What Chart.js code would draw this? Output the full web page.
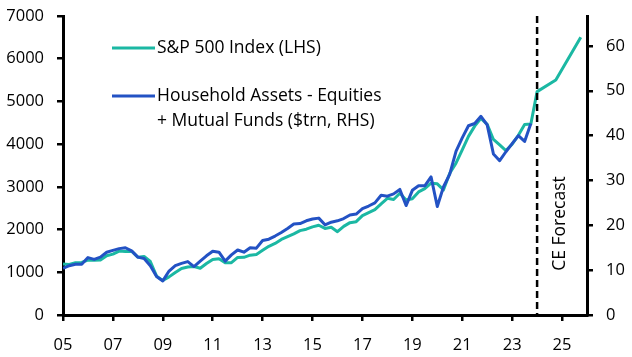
<!DOCTYPE html>
<html>
<head>
<meta charset="utf-8">
<script src="https://cdn.jsdelivr.net/npm/chart.js@4.4.1/dist/chart.umd.min.js"></script>
<style>
  html, body { margin: 0; padding: 0; background: #fff; }
  #wrap { width: 632px; height: 357px; position: relative; }
</style>
</head>
<body>
<div id="wrap"><canvas id="c" width="632" height="357"></canvas></div>
<script>
// Quarterly data, 2005 Q1 onward
const startYear = 2005;
const spxQuarterly = [
  1192, 1183, 1224, 1231,
  1283, 1282, 1289, 1389,
  1425, 1497, 1489, 1494,
  1351, 1371, 1252, 909,
  810, 892, 995, 1088,
  1123, 1135, 1096, 1204,
  1302, 1318, 1226, 1225,
  1348, 1350, 1400, 1418,
  1514, 1609, 1675, 1769,
  1834, 1900, 1976, 2009,
  2064, 2102, 2027, 2052,
  1951, 2075, 2162, 2185,
  2326, 2396, 2467, 2603,
  2733, 2703, 2849, 2692,
  2722, 2882, 2958, 3085,
  3070, 2930, 3320, 3553,
  3864, 4182, 4422, 4602,
  4463, 4109, 3980, 3851,
  3999, 4206, 4458, 4472,
  5230
];
const spxForecastQuarters = ["2024Q4", "2025Q4"];
const spxForecastValues = [5500, 6500];

const householdEquities = [
  10.4, 11.0, 11.3, 11.3,
  12.8, 12.4, 12.9, 14.0,
  14.4, 14.8, 15.0, 14.3,
  12.9, 12.6, 11.0, 8.6,
  7.6, 9.8, 11.0, 11.5,
  11.9, 10.8, 12.0, 13.2,
  14.2, 14.0, 12.0, 13.4,
  14.5, 14.0, 15.0, 14.9,
  16.6, 16.9, 17.6, 18.4,
  19.3, 20.3, 20.4, 21.0,
  21.4, 21.6, 20.1, 20.7,
  21.0, 21.5, 22.3, 22.5,
  23.7, 24.3, 25.0, 26.7,
  26.5, 27.0, 28.0, 24.4,
  27.8, 28.8, 28.8, 30.8,
  24.2, 28.6, 31.4, 36.5,
  39.5, 42.2, 42.7, 44.3,
  42.4, 35.9, 34.4, 36.4,
  38.2, 40.0, 38.7, 42.7
];

const xTickYears = [2005, 2007, 2009, 2011, 2013, 2015, 2017, 2019, 2021, 2023, 2025];
const leftTicks = [0, 1000, 2000, 3000, 4000, 5000, 6000, 7000];
const rightTicks = [0, 10, 20, 30, 40, 50, 60];
const forecastStart = 2024;

const legendLabels = ["S&P 500 Index (LHS)", ["Household Assets - Equities", "+ Mutual Funds ($trn, RHS)"]];
const forecastLabel = "CE Forecast";

const TEAL = "#1BB8A3";
const BLUE = "#2352C4";
const FONT = "'Open Sans', sans-serif";

function qToX(idx) { return startYear + idx / 4; }
function labelToX(s) { const y = parseInt(s.slice(0, 4)); const q = parseInt(s.slice(5)); return y + (q - 1) / 4; }

const spxData = spxQuarterly.map((v, i) => ({ x: qToX(i), y: v }))
  .concat(spxForecastQuarters.map((s, i) => ({ x: labelToX(s), y: spxForecastValues[i] })));
const hhData = householdEquities.map((v, i) => ({ x: qToX(i), y: v }));

function noPad(s) { s.paddingTop = 0; s.paddingBottom = 0; s.paddingLeft = 0; s.paddingRight = 0; }

const overlay = {
  id: 'overlay',
  afterDatasetsDraw(chart) {
    const ctx = chart.ctx;
    const xs = chart.scales.x;
    const ca = chart.chartArea;
    // forecast dashed line
    const fx = xs.getPixelForValue(forecastStart);
    ctx.save();
    ctx.strokeStyle = '#000';
    ctx.lineWidth = 2.5;
    ctx.setLineDash([7, 4]);
    ctx.beginPath();
    ctx.moveTo(fx, ca.top);
    ctx.lineTo(fx, ca.bottom);
    ctx.stroke();
    ctx.setLineDash([]);
    // forecast label
    ctx.translate(fx + 23, (ca.top + ca.bottom) / 2 + 58);
    ctx.rotate(-Math.PI / 2);
    ctx.fillStyle = '#000';
    ctx.font = "17.5px " + FONT;
    ctx.textAlign = 'center';
    ctx.textBaseline = 'middle';
    ctx.fillText(forecastLabel, 0, 0);
    ctx.restore();

    // legend
    ctx.save();
    ctx.lineWidth = 3;
    ctx.strokeStyle = TEAL;
    ctx.beginPath(); ctx.moveTo(112, 48); ctx.lineTo(155, 48); ctx.stroke();
    ctx.strokeStyle = BLUE;
    ctx.beginPath(); ctx.moveTo(112, 96); ctx.lineTo(155, 96); ctx.stroke();
    ctx.fillStyle = '#000';
    ctx.font = "17.5px " + FONT;
    ctx.textAlign = 'left';
    ctx.textBaseline = 'middle';
    ctx.fillText(legendLabels[0], 157, 48);
    ctx.fillText(legendLabels[1][0], 157, 96);
    ctx.fillText(legendLabels[1][1], 157, 121);
    ctx.restore();
  }
};

new Chart(document.getElementById('c'), {
  type: 'line',
  data: {
    datasets: [
      { label: 'S&P 500 Index (LHS)', data: spxData, yAxisID: 'y', borderColor: TEAL, borderWidth: 3,
        pointRadius: 0, tension: 0, spanGaps: true, order: 1, borderJoinStyle: 'round' },
      { label: 'Household Assets', data: hhData, yAxisID: 'y2', borderColor: BLUE, borderWidth: 3,
        pointRadius: 0, tension: 0, order: 0, borderJoinStyle: 'round' }
    ]
  },
  options: {
    responsive: false,
    animation: false,
    events: [],
    layout: { padding: { top: 16, left: 0, right: 0, bottom: 0 } },
    plugins: { legend: { display: false }, tooltip: { enabled: false } },
    scales: {
      x: {
        type: 'linear', min: 2005, max: 2026,
        afterBuildTicks(s) { s.ticks = xTickYears.map(v => ({ value: v })); },
        afterFit(s) { s.height = 42; noPad(s); },
        ticks: { color: '#000', font: { family: FONT, size: 16.5 }, padding: 14, maxRotation: 0, autoSkip: false,
                 callback: v => String(v).slice(2) },
        grid: { drawOnChartArea: false, drawTicks: true, tickLength: 6, color: '#000', lineWidth: 2.5 },
        border: { display: true, color: '#000', width: 3 }
      },
      y: {
        position: 'left', min: 0, max: 7000,
        afterBuildTicks(s) { s.ticks = leftTicks.map(v => ({ value: v })); },
        afterFit(s) { s.width = 63; noPad(s); },
        ticks: { color: '#000', font: { family: FONT, size: 16.5 }, padding: 13, callback: v => String(v) },
        grid: { drawOnChartArea: false, drawTicks: true, tickLength: 6, color: '#000', lineWidth: 2.5 },
        border: { display: true, color: '#000', width: 3 }
      },
      y2: {
        position: 'right', min: 0, max: 7000 / 105,
        afterBuildTicks(s) { s.ticks = rightTicks.map(v => ({ value: v })); },
        afterFit(s) { s.width = 45; noPad(s); },
        ticks: { color: '#000', font: { family: FONT, size: 16.5 }, padding: 13, callback: v => String(v) },
        grid: { drawOnChartArea: false, drawTicks: true, tickLength: 6, color: '#000', lineWidth: 2.5 },
        border: { display: true, color: '#000', width: 3 }
      }
    }
  },
  plugins: [overlay]
});
</script>
</body>
</html>
